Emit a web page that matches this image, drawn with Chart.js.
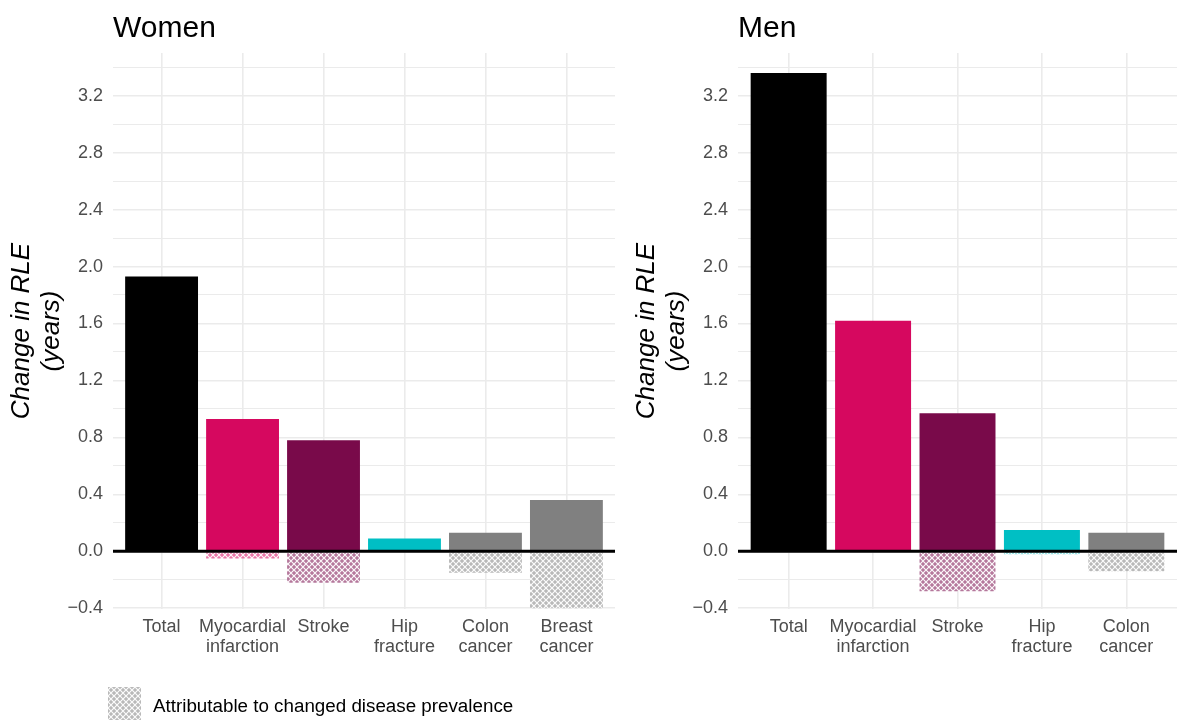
<!DOCTYPE html>
<html>
<head>
<meta charset="utf-8">
<script src="https://cdn.jsdelivr.net/npm/chart.js@4/dist/chart.umd.min.js"></script>
<style>
  html, body { margin: 0; padding: 0; background: #fff; overflow: hidden; }
  #wrap { position: relative; width: 1177px; height: 722px; }
  canvas { position: absolute; top: 0; }
  #women { left: 0; }
  #men { left: 620px; }
</style>
</head>
<body>
<div id="wrap">
  <canvas id="women" width="620" height="722"></canvas>
  <canvas id="men" width="557" height="722"></canvas>
</div>
<script>
// Change in remaining life expectancy (years), by condition
const womenCategories = ['Total', ['Myocardial', 'infarction'], 'Stroke', ['Hip', 'fracture'], ['Colon', 'cancer'], ['Breast', 'cancer']];
const womenChange     = [1.93, 0.93, 0.78, 0.09, 0.13, 0.36];
const womenPrevalence = [0, -0.05, -0.22, 0, -0.15, -0.40];

const menCategories = ['Total', ['Myocardial', 'infarction'], 'Stroke', ['Hip', 'fracture'], ['Colon', 'cancer']];
const menChange     = [3.36, 1.62, 0.97, 0.15, 0.13];
const menPrevalence = [0, 0, -0.28, -0.02, -0.14];

const womenColors = ['#000000', '#D6085F', '#790A4A', '#00BFC4', '#808080', '#808080'];
const menColors   = ['#000000', '#D6085F', '#790A4A', '#00BFC4', '#808080'];

const yMajorTicks = [-0.4, 0, 0.4, 0.8, 1.2, 1.6, 2.0, 2.4, 2.8, 3.2];
const yMinorTicks = [-0.2, 0.2, 0.6, 1.0, 1.4, 1.8, 2.2, 2.6, 3.0, 3.4];

const yTitle = ['Change in RLE', '(years)'];
const legendText = 'Attributable to changed disease prevalence';

const FONT = '"Liberation Sans", Arial, Helvetica, sans-serif';
const TICK_COLOR = '#4D4D4D';
const GRID_COLOR = '#EBEBEB';

function hatch(ctx, color) {
  const s = 6;
  const tile = document.createElement('canvas');
  tile.width = s; tile.height = s;
  const t = tile.getContext('2d');
  t.fillStyle = '#ffffff';
  t.fillRect(0, 0, s, s);
  t.globalAlpha = 0.55;
  t.fillStyle = color;
  t.fillRect(0, 0, s, s);
  t.globalAlpha = 1;
  t.strokeStyle = 'rgba(255,255,255,0.95)';
  t.lineWidth = 1.2;
  t.beginPath();
  t.moveTo(-1, -1); t.lineTo(s + 1, s + 1);
  t.moveTo(s + 1, -1); t.lineTo(-1, s + 1);
  t.stroke();
  return ctx.createPattern(tile, 'repeat');
}

function isMajor(v) {
  return yMajorTicks.some(m => Math.abs(m - v) < 1e-6);
}

const panelDecor = {
  id: 'panelDecor',
  afterDatasetsDraw(chart) {
    const { ctx, chartArea, scales } = chart;
    const y0 = scales.y.getPixelForValue(0);
    ctx.save();
    ctx.strokeStyle = '#000';
    ctx.lineWidth = 3;
    ctx.beginPath();
    ctx.moveTo(chartArea.left, y0);
    ctx.lineTo(chartArea.right, y0);
    ctx.stroke();
    ctx.restore();
  },
  afterDraw(chart, args, opts) {
    const { ctx, chartArea } = chart;
    ctx.save();
    ctx.fillStyle = '#000';
    ctx.font = '30px ' + FONT;
    ctx.textAlign = 'left';
    ctx.textBaseline = 'alphabetic';
    ctx.fillText(opts.title, chartArea.left, 37);
    if (opts.legend) {
      ctx.fillStyle = hatch(ctx, '#808080');
      ctx.fillRect(108, 687, 33, 33);
      ctx.fillStyle = '#000';
      ctx.font = '18.8px ' + FONT;
      ctx.textBaseline = 'middle';
      ctx.fillText(legendText, 153, 707);
    }
    ctx.restore();
  }
};

function buildPanel(canvasId, title, categories, change, prevalence, colors, yWidth, titlePad, padRight, withLegend) {
  const canvas = document.getElementById(canvasId);
  const ctx = canvas.getContext('2d');
  const patterns = colors.map(c => hatch(ctx, c));
  const n = categories.length;

  return new Chart(ctx, {
    type: 'bar',
    data: {
      datasets: [
        {
          label: 'Change in RLE',
          data: change.map((v, i) => ({ x: i + 1, y: v })),
          backgroundColor: colors,
          borderWidth: 0,
          stack: 'rle'
        },
        {
          label: legendText,
          data: prevalence.map((v, i) => ({ x: i + 1, y: v })),
          backgroundColor: patterns,
          borderWidth: 0,
          stack: 'rle'
        }
      ]
    },
    options: {
      responsive: false,
      animation: false,
      devicePixelRatio: 1,
      layout: { padding: { left: 0, right: padRight, top: 53, bottom: 0 } },
      datasets: { bar: { categoryPercentage: 0.9, barPercentage: 1.0 } },
      plugins: {
        legend: { display: false },
        tooltip: { enabled: false },
        panelDecor: { title: title, legend: withLegend }
      },
      scales: {
        x: {
          type: 'linear',
          stacked: true,
          offset: false,
          min: 0.4,
          max: n + 0.6,
          afterBuildTicks: (scale) => {
            scale.ticks = categories.map((_, i) => ({ value: i + 1 }));
          },
          afterFit: (scale) => { scale.height = 113; },
          border: { display: false },
          grid: { color: GRID_COLOR, lineWidth: 1.6, drawTicks: false, offset: false },
          ticks: {
            autoSkip: false,
            maxRotation: 0,
            minRotation: 0,
            padding: 8,
            color: TICK_COLOR,
            font: { family: FONT, size: 18, lineHeight: 1.1 },
            callback: (value) => categories[Math.round(value) - 1]
          }
        },
        y: {
          type: 'linear',
          stacked: true,
          min: -0.405,
          max: 3.5,
          afterBuildTicks: (scale) => {
            scale.ticks = yMajorTicks.concat(yMinorTicks).sort((a, b) => a - b).map(v => ({ value: v }));
          },
          afterFit: (scale) => { scale.width = yWidth; },
          border: { display: false },
          grid: {
            color: GRID_COLOR,
            lineWidth: (c) => (c.tick && isMajor(c.tick.value)) ? 1.6 : 1.1,
            drawTicks: false
          },
          ticks: {
            padding: 10,
            color: TICK_COLOR,
            font: { family: FONT, size: 18 },
            callback: (value) => isMajor(value) ? value.toFixed(1).replace('-', '\u2212') : ''
          },
          title: {
            display: true,
            text: yTitle,
            color: '#000',
            font: { family: FONT, size: 26, style: 'italic', lineHeight: 1.15 },
            padding: { top: titlePad, bottom: 0 }
          }
        }
      }
    },
    plugins: [panelDecor]
  });
}

buildPanel('women', 'Women', womenCategories, womenChange, womenPrevalence, womenColors, 113, 7, 5, true);
buildPanel('men', 'Men', menCategories, menChange, menPrevalence, menColors, 118, 12, 0, false);
</script>
</body>
</html>
